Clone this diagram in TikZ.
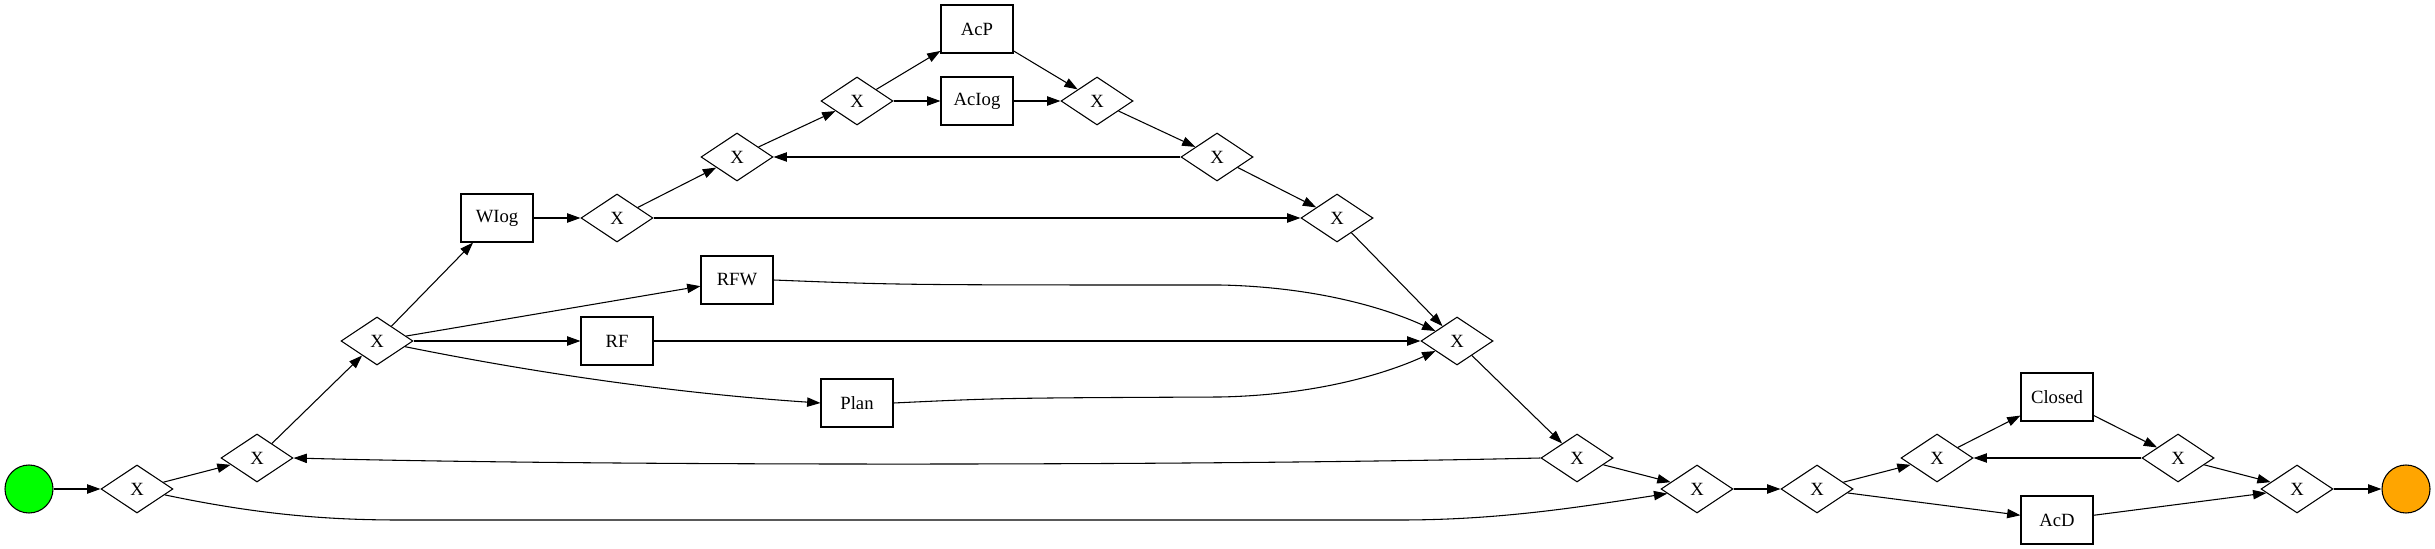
\documentclass[tikz,border=0pt]{standalone}
\usepackage{fontspec}
\setmainfont{Liberation Serif}
\usetikzlibrary{shapes.geometric,arrows.meta}
\begin{document}
\begin{tikzpicture}[x=0.75pt,y=-0.75pt,
	every node/.style={font=\fontsize{14}{16}\selectfont,line width=0.8pt},
	gate/.style={draw,diamond,aspect=1.5,inner sep=0pt,minimum width=54pt,minimum height=36pt},
	task/.style={draw,rectangle,inner sep=0pt,minimum width=54pt,minimum height=36pt},
	event/.style={draw,circle,inner sep=0pt,minimum size=36pt},
	flow/.style={line width=0.8pt,-{Triangle[length=10pt,width=7pt]}}]
		\useasboundingbox (0,0) rectangle (2435,549);
		% events and tasks
		\node[event,fill={rgb,255:red,0;green,255;blue,0}] (start) at (29,489) {};
		\node[event,fill={rgb,255:red,255;green,165;blue,0}] (finish) at (2406,489) {};
		\node[task] (wiog) at (497,218) {WIog};
		\node[task] (rfw) at (737,280) {RFW};
		\node[task] (rf) at (617,341) {RF};
		\node[task] (plan) at (857,403) {Plan};
		\node[task] (acp) at (977,29) {AcP};
		\node[task] (aciog) at (977,101) {AcIog};
		\node[task] (closed) at (2057,397) {Closed};
		\node[task] (acd) at (2057,520) {AcD};
		% gateways
		\node[gate] (g1) at (137,489) {X};
		\node[gate] (g2) at (257,458) {X};
		\node[gate] (g3) at (377,341) {X};
		\node[gate] (g4) at (617,218) {X};
		\node[gate] (g5) at (737,157) {X};
		\node[gate] (g6) at (857,101) {X};
		\node[gate] (g7) at (1097,101) {X};
		\node[gate] (g8) at (1217,157) {X};
		\node[gate] (g9) at (1337,218) {X};
		\node[gate] (g10) at (1457,341) {X};
		\node[gate] (g11) at (1577,458) {X};
		\node[gate] (g12) at (1697,489) {X};
		\node[gate] (g13) at (1817,489) {X};
		\node[gate] (g14) at (1937,458) {X};
		\node[gate] (g15) at (2178,458) {X};
		\node[gate] (g16) at (2297,489) {X};
		% flows
		\draw[flow] (start) -- (g1);
		\draw[flow] (g1) -- (g2);
		\draw[flow] (g1) .. controls (260,515) and (330,520) .. (400,520) -- (1400,520) .. controls (1500,520) and (1580,507) .. (g12);
		\draw[flow] (g2) -- (g3);
		\draw[flow] (g3) -- (wiog);
		\draw[flow] (g3) -- (rfw);
		\draw[flow] (g3) -- (rf);
		\draw[flow] (g3) .. controls (560,378) and (700,395) .. (plan.west);
		\draw[flow] (wiog) -- (g4);
		\draw[flow] (g4) -- (g5);
		\draw[flow] (g4.east) -- (g9.west);
		\draw[flow] (g5) -- (g6);
		\draw[flow] (g6) -- (acp);
		\draw[flow] (g6) -- (aciog);
		\draw[flow] (acp) -- (g7);
		\draw[flow] (aciog) -- (g7);
		\draw[flow] (g7) -- (g8);
		\draw[flow] (g8.west) -- (g5.east);
		\draw[flow] (g8) -- (g9);
		\draw[flow] (g9) -- (g10);
		\draw[flow] (rfw.east) .. controls (900,285) .. (1220,285) .. controls (1320,287) and (1390,310) .. (g10);
		\draw[flow] (rf) -- (g10);
		\draw[flow] (plan.east) .. controls (1000,398) .. (1220,397) .. controls (1320,395) and (1390,372) .. (g10);
		\draw[flow] (g10) -- (g11);
		\draw[flow] (g11.west) .. controls (1200,466) and (600,466) .. (g2.east);
		\draw[flow] (g11) -- (g12);
		\draw[flow] (g12) -- (g13);
		\draw[flow] (g13) -- (g14);
		\draw[flow] (g13) -- (acd);
		\draw[flow] (g14) -- (closed);
		\draw[flow] (closed) -- (g15);
		\draw[flow] (g15.west) -- (g14.east);
		\draw[flow] (g15) -- (g16);
		\draw[flow] (acd) -- (g16);
		\draw[flow] (g16) -- (finish);
\end{tikzpicture}
\end{document}
